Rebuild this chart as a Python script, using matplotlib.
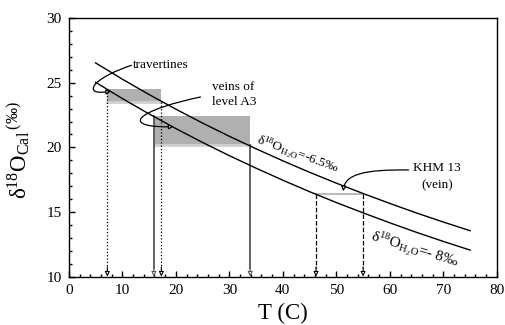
import numpy as np
import matplotlib
matplotlib.use("Agg")
import matplotlib.pyplot as plt
from matplotlib.path import Path
from matplotlib.patches import FancyArrowPatch, Rectangle
from matplotlib.ticker import MultipleLocator

matplotlib.rcParams['font.family'] = 'Liberation Serif'
matplotlib.rcParams['mathtext.fontset'] = 'custom'
matplotlib.rcParams['mathtext.rm'] = 'Liberation Serif'
matplotlib.rcParams['mathtext.it'] = 'Liberation Serif:italic'

# equilibrium curves
temp = [5, 10, 15, 20, 25, 30, 35, 40, 45, 50, 55, 60, 65, 70, 75]
d18_upper = [26.54, 25.28, 24.09, 22.96, 21.88, 20.86, 19.89, 18.96, 18.07, 17.23, 16.43, 15.66, 14.92, 14.22, 13.55]   # water -6.5 permil
d18_lower = [25.04, 23.78, 22.59, 21.46, 20.38, 19.36, 18.39, 17.46, 16.57, 15.73, 14.93, 14.16, 13.42, 12.72, 12.05]   # water -8 permil

# calcite ranges (T min, T max, d18O low, d18O high)
trav_T = [7.2, 17.3]
trav_d = [23.55, 24.5]
a3_T = [15.9, 33.9]
a3_d = [20.2, 22.4]
khm_T = [46.2, 55.0]
khm_d = 16.4

fig = plt.figure(figsize=(5.06, 3.25), dpi=100)
ax = fig.add_axes([0.136, 0.149, 0.846, 0.795])

# shaded ranges
ax.add_patch(Rectangle((trav_T[0], trav_d[0]), trav_T[1] - trav_T[0], trav_d[1] - trav_d[0],
                       fc='#b0b0b0', ec='none', zorder=1))
ax.add_patch(Rectangle((a3_T[0], a3_d[0]), a3_T[1] - a3_T[0], a3_d[1] - a3_d[0],
                       fc='#b0b0b0', ec='none', zorder=1))
ax.plot(trav_T, [trav_d[0]] * 2, color='#d0d0d0', lw=2, zorder=1.5)
ax.plot(a3_T, [a3_d[0]] * 2, color='#d0d0d0', lw=2, zorder=1.5)
ax.plot(khm_T, [khm_d] * 2, color='#bbbbbb', lw=1.5, zorder=1.5)

ax.plot(temp, d18_upper, color='black', lw=1, zorder=3)
ax.plot(temp, d18_lower, color='black', lw=1, zorder=3)

# drop lines with small open arrowheads
drops = [(trav_T[0], trav_d[1], ':', 'black', 0.9),
         (trav_T[1], trav_d[0], ':', 'black', 0.9),
         (a3_T[0], a3_d[1], '-', '#555555', 1.3),
         (a3_T[1], a3_d[0], '-', '#555555', 1.3),
         (khm_T[0], khm_d, '--', 'black', 0.9),
         (khm_T[1], khm_d, '--', 'black', 0.9)]
for x, ytop, ls, col, lw in drops:
    ax.plot([x, x], [ytop, 10.7], ls=ls, color=col, lw=lw, zorder=2)
    ax.annotate('', xy=(x, 10.0), xytext=(x, 10.75),
                arrowprops=dict(arrowstyle='-|>', fc='white', ec=col, lw=0.8,
                                mutation_scale=7, shrinkA=0, shrinkB=0), zorder=2)


def leader(pts, mut=7):
    codes = [Path.MOVETO] + [Path.CURVE4] * (len(pts) - 1)
    p = FancyArrowPatch(path=Path(pts, codes), arrowstyle='-|>', fc='white', ec='black',
                        lw=0.9, mutation_scale=mut, zorder=4)
    ax.add_patch(p)


leader([(11.7, 26.35), (9.0, 26.0), (5.5, 25.3), (4.8, 24.8),
        (4.1, 24.35), (5.0, 24.15), (7.9, 24.35)])
leader([(24.6, 23.9), (20.0, 23.5), (15.0, 22.9), (13.6, 22.3),
        (12.6, 21.8), (15.0, 21.55), (19.6, 21.6)])
leader([(63.5, 18.25), (55.0, 18.3), (51.5, 17.9), (51.3, 16.6)])

ax.text(12.0, 26.4, 'travertines', fontsize=9.5, va='center', ha='left')
ax.text(26.8, 24.7, 'veins of', fontsize=9.5, va='center', ha='left')
ax.text(26.8, 23.5, 'level A3', fontsize=9.5, va='center', ha='left')
ax.text(68.8, 18.4, 'KHM 13', fontsize=9.5, va='center', ha='center')
ax.text(68.8, 17.1, '(vein)', fontsize=9.5, va='center', ha='center')

ax.text(35.0, 20.35, 'δ$^{18}$O$_{\\rm H_2O}$=-6.5‰', fontsize=9.5, rotation=-20,
        rotation_mode='anchor', ha='left', va='baseline', zorder=5)
ax.text(56.3, 12.75, 'δ$^{18}$O$_{\\rm H_2O}$=- 8‰', fontsize=11, rotation=-17,
        rotation_mode='anchor', ha='left', va='baseline', zorder=5)

ax.set_xlim(0, 80)
ax.set_ylim(10, 30)
ax.xaxis.set_major_locator(MultipleLocator(10))
ax.xaxis.set_minor_locator(MultipleLocator(2))
ax.yaxis.set_major_locator(MultipleLocator(5))
ax.yaxis.set_minor_locator(MultipleLocator(1))
ax.tick_params(which='both', direction='in', top=False, right=False, labelsize=11, pad=5)
ax.tick_params(which='major', length=4, width=1)
ax.tick_params(which='minor', length=2, width=1)
for s in ax.spines.values():
    s.set_linewidth(1)

ax.set_xlabel('T (C)', fontsize=16.5)
ax.xaxis.set_label_coords(0.5, -0.1)
ax.set_ylabel('δ$^{18}$O$_{\\rm Cal}\\,{}^{(‰)}$', fontsize=16.5)
ax.yaxis.set_label_coords(-0.085, 0.49)

fig.savefig('out.png', dpi=100)
